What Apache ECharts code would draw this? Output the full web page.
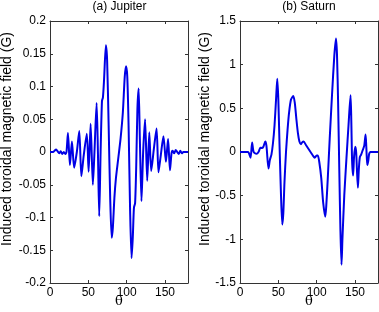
<!DOCTYPE html>
<html>
<head>
<meta charset="utf-8">
<script src="https://cdn.jsdelivr.net/npm/echarts@6/dist/echarts.min.js"></script>
<style>
html, body { margin: 0; padding: 0; background: #fff; }
#main { width: 379px; height: 312px; }
</style>
</head>
<body>
<div id="main"></div>
<script>
// (a) Jupiter
var jupiterTheta = [0, 4, 6, 8, 10, 12, 14, 16, 18, 20, 21.5, 23.4, 26, 28.6, 31.5, 35, 38.2, 40.9, 44, 48,
	50.4, 53, 55.9, 58, 60.8, 62.5, 64.2, 66, 67.8, 69, 70.5, 72.9, 74.5, 76.5, 78.5, 80.5, 82, 84, 86, 89,
	92, 95, 97.5, 99.2, 100.8, 102.5, 104.5, 106.4, 108, 109.5, 111, 112.5, 114, 115.6, 117.2, 119.3, 121.5, 124, 126.8, 129.5,
	132, 135.5, 139, 141.5, 144.5, 148, 151.2, 154, 156.5, 158.5, 160, 162, 164, 166, 168, 170, 172, 174, 180];
var jupiterField = [0, 0, 0.002, 0.004, 0.001, -0.002, 0.001, -0.003, 0, -0.003, 0, 0.029, -0.020, 0.016, -0.024, 0, 0.032, -0.037, -0.005, 0.028,
	-0.030, 0.043, -0.050, 0, 0.075, 0, -0.098, 0, 0.078, 0.083, 0.11, 0.163, 0.14, 0.04, -0.07, -0.131, -0.115, -0.07, -0.04, -0.01,
	0.02, 0.06, 0.115, 0.131, 0.115, 0.04, -0.09, -0.162, -0.13, -0.085, -0.078, -0.02, 0.065, 0.097, 0.02, -0.075, 0, 0.050, -0.044, 0.030,
	-0.029, 0.005, 0.036, -0.031, -0.005, 0.024, -0.015, 0.02, -0.028, -0.002, 0.002, -0.002, 0.003, 0, -0.003, 0.002, -0.002, 0, 0];

// (b) Saturn
var saturnTheta = [0, 10, 11.5, 13.8, 15.8, 17.5, 19.5, 22, 24.5, 26.5, 28.5, 30.5, 33, 34.5, 37.2, 39, 41, 43, 45, 47,
	48.6, 50, 51.5, 53.5, 55.2, 56.5, 58, 60, 62, 64, 66.5, 69.5, 71.5, 73.5, 75.5, 77.5, 79.5, 81, 83, 86,
	89, 92, 95, 97.5, 100, 101.5, 103.5, 106, 108.5, 111.2, 112.5, 114.5, 117, 120, 123, 125.2, 126.5, 128, 129.5, 131,
	132.4, 133.6, 136, 139, 141.5, 144.2, 145.2, 146.2, 147.5, 148.8, 150.3, 151.5, 152.5, 153.8, 155, 156.3, 158, 160, 162, 163.8,
	164.8, 166, 167.3, 168.5, 170, 180];
var saturnField = [0, 0, -0.01, -0.065, 0.11, 0.01, -0.015, -0.02, 0.005, 0.05, 0.045, 0.06, 0.12, 0.07, -0.19, -0.09, -0.03, 0.1, 0.3, 0.6,
	0.84, 0.6, 0.1, -0.5, -0.83, -0.7, -0.35, 0, 0.25, 0.45, 0.6, 0.64, 0.56, 0.38, 0.22, 0.12, 0.09, 0.11, 0.12, 0.08,
	0.04, 0, -0.04, -0.065, -0.04, -0.04, -0.12, -0.3, -0.58, -0.74, -0.62, -0.3, 0.15, 0.65, 1.1, 1.30, 1.12, 0.55, -0.2, -0.9,
	-1.29, -1.0, -0.5, -0.05, 0.3, 0.65, 0.35, -0.1, -0.27, -0.05, 0.06, 0.0, -0.2, -0.41, -0.2, -0.06, -0.03, 0.02, 0.07, 0.2,
	0.05, -0.15, -0.1, -0.02, 0, 0];

var jupiterTicks = { min: -0.2, max: 0.2, interval: 0.05 };
var saturnTicks = { min: -1.5, max: 1.5, interval: 0.5 };

function pairs(xs, ys) {
	var out = [];
	for (var i = 0; i < xs.length; i++) out.push([xs[i], ys[i]]);
	return out;
}

var font = 'Liberation Sans, Arial, sans-serif';
var axisColor = '#333';
var yName = 'Induced toroidal magnetic field (G)';

function fmt(v) {
	return String(Math.round(v * 100) / 100);
}

function xAx(grid, bottom) {
	return {
		type: 'value', gridIndex: grid, position: bottom ? 'bottom' : 'top',
		min: 0, max: 180, interval: 50,
		axisLine: { show: true, onZero: false, lineStyle: { color: axisColor, width: 1 } },
		axisTick: { show: true, inside: true, length: 3, lineStyle: { color: axisColor } },
		axisLabel: { show: bottom, showMaxLabel: false, color: '#000', fontSize: 12, fontFamily: font, margin: 4 },
		splitLine: { show: false }
	};
}

function yAx(grid, left, t) {
	return {
		type: 'value', gridIndex: grid, position: left ? 'left' : 'right',
		min: t.min, max: t.max, interval: t.interval,
		axisLine: { show: true, onZero: false, lineStyle: { color: axisColor, width: 1 } },
		axisTick: { show: true, inside: true, length: 3, lineStyle: { color: axisColor } },
		axisLabel: { show: left, color: '#000', fontSize: 12, fontFamily: font, margin: 4, formatter: fmt },
		splitLine: { show: false }
	};
}

var myChart = echarts.init(document.getElementById('main'), null, { renderer: 'canvas' });
var option = {
	animation: false,
	backgroundColor: '#fff',
	grid: [
		{ left: 50, top: 21, width: 138, height: 262 },
		{ left: 240, top: 21, width: 138, height: 262 }
	],
	xAxis: [xAx(0, true), xAx(0, false), xAx(1, true), xAx(1, false)],
	yAxis: [yAx(0, true, jupiterTicks), yAx(0, false, jupiterTicks), yAx(1, true, saturnTicks), yAx(1, false, saturnTicks)],
	graphic: [
		{ type: 'text', x: 119.5, y: 1, style: { text: '(a) Jupiter', fill: '#000', font: '12px ' + font, align: 'center' } },
		{ type: 'text', x: 309, y: 1, style: { text: '(b) Saturn', fill: '#000', font: '12px ' + font, align: 'center' } },
		{ type: 'text', x: 119, y: 295, style: { text: 'θ', fill: '#000', font: '13px DejaVu Serif, serif', align: 'center' } },
		{ type: 'text', x: 309, y: 295, style: { text: 'θ', fill: '#000', font: '13px DejaVu Serif, serif', align: 'center' } },
		{ type: 'text', x: 0, y: 246, rotation: Math.PI / 2, style: { text: yName, fill: '#000', font: '14px ' + font, verticalAlign: 'top' } },
		{ type: 'text', x: 198, y: 246, rotation: Math.PI / 2, style: { text: yName, fill: '#000', font: '14px ' + font, verticalAlign: 'top' } }
	],
	series: [
		{
			name: 'Jupiter', type: 'line', xAxisIndex: 0, yAxisIndex: 0,
			data: pairs(jupiterTheta, jupiterField),
			showSymbol: false, smooth: 0.25,
			lineStyle: { color: '#0000e6', width: 2 }
		},
		{
			name: 'Saturn', type: 'line', xAxisIndex: 2, yAxisIndex: 2,
			data: pairs(saturnTheta, saturnField),
			showSymbol: false, smooth: 0.25,
			lineStyle: { color: '#0000e6', width: 2 }
		}
	]
};
myChart.setOption(option);
</script>
</body>
</html>
